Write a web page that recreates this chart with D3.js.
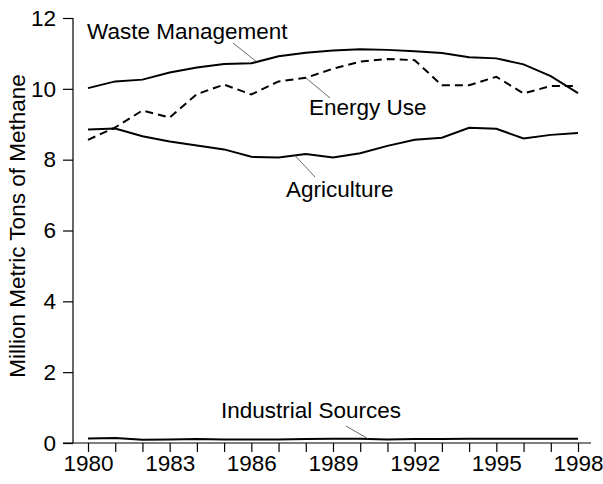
<!DOCTYPE html>
<html>
<head>
<meta charset="utf-8">
<script src="https://cdn.jsdelivr.net/npm/d3@7"></script>
<style>
  body { margin: 0; background: #fff; }
  text { font-family: "Liberation Sans", Arial, sans-serif; fill: #000; }
</style>
</head>
<body>
<div id="chart"></div>
<script>
// years on the x axis
var years = d3.range(1980, 1999);
var yearLabels = [1980, 1983, 1986, 1989, 1992, 1995, 1998];
var yTicks = [0, 2, 4, 6, 8, 10, 12];

// million metric tons of methane
var waste = [10.02, 10.21, 10.26, 10.46, 10.6, 10.7, 10.72, 10.92, 11.02, 11.08, 11.12, 11.1, 11.06, 11.01, 10.89, 10.86, 10.69, 10.36, 9.88];
var energy = [8.56, 8.91, 9.39, 9.19, 9.85, 10.12, 9.84, 10.21, 10.31, 10.57, 10.77, 10.84, 10.81, 10.1, 10.1, 10.34, 9.87, 10.08, 10.08];
var agriculture = [8.85, 8.88, 8.66, 8.51, 8.4, 8.29, 8.08, 8.06, 8.16, 8.06, 8.18, 8.39, 8.56, 8.62, 8.9, 8.87, 8.6, 8.7, 8.75];
var industrial = [0.13, 0.14, 0.09, 0.1, 0.11, 0.1, 0.1, 0.1, 0.11, 0.12, 0.12, 0.1, 0.11, 0.11, 0.12, 0.12, 0.12, 0.12, 0.12];

var width = 603, height = 484;
var fontSize = '22.5px';

var svg = d3.select('#chart').append('svg')
    .attr('width', width)
    .attr('height', height);

var x = d3.scaleLinear().domain([1980, 1998]).range([88, 578]);
var y = d3.scaleLinear().domain([0, 12]).range([443, 18]);

//axes lines, drawn by hand so they overhang like the original
svg.append('line')
    .attr('x1', x(1980) - 25).attr('x2', x(1998) + 13)
    .attr('y1', y(0)).attr('y2', y(0))
    .attr('stroke', '#000').attr('stroke-width', 1.2);
svg.append('line')
    .attr('x1', x(1980) - 15).attr('x2', x(1980) - 15)
    .attr('y1', y(0)).attr('y2', y(12))
    .attr('stroke', '#000').attr('stroke-width', 1.2);

//x ticks
var xAxis = d3.axisBottom(x)
    .tickValues(years)
    .tickSize(9)
    .tickFormat(function(d) { return yearLabels.indexOf(d) >= 0 ? d : ''; });
var gx = svg.append('g')
    .attr('transform', 'translate(0,' + y(0) + ')')
    .call(xAxis);
gx.select('.domain').remove();
gx.selectAll('line').attr('stroke', '#000').attr('stroke-width', 1.2);
gx.selectAll('text')
    .attr('y', 12)
    .style('font-size', fontSize)
    .style('font-family', '"Liberation Sans", Arial, sans-serif');

//y ticks
var yAxis = d3.axisLeft(y)
    .tickValues(yTicks)
    .tickSize(10)
    .tickFormat(d3.format('d'));
var gy = svg.append('g')
    .attr('transform', 'translate(' + (x(1980) - 15) + ',0)')
    .call(yAxis);
gy.select('.domain').remove();
gy.selectAll('line').attr('stroke', '#000').attr('stroke-width', 1.2);
gy.selectAll('text')
    .attr('x', -17)
    .style('font-size', fontSize)
    .style('font-family', '"Liberation Sans", Arial, sans-serif');

//y title
svg.append('text')
    .attr('transform', 'translate(25,226) rotate(-90)')
    .attr('text-anchor', 'middle')
    .style('font-size', fontSize)
    .text('Million Metric Tons of Methane');

var line = d3.line()
    .x(function(d, i) { return x(years[i]); })
    .y(function(d) { return y(d); });

var series = [
    { values: waste, dash: null },
    { values: energy, dash: '8,5' },
    { values: agriculture, dash: null },
    { values: industrial, dash: null }
];

svg.selectAll('.series').data(series)
    .enter().append('path')
    .attr('class', 'series')
    .attr('d', function(d) { return line(d.values); })
    .attr('fill', 'none')
    .attr('stroke', '#000')
    .attr('stroke-width', 2)
    .attr('stroke-dasharray', function(d) { return d.dash; });

//labels with leader lines
var labels = [
    { text: 'Waste Management', tx: 87, ty: 39, lx1: 233, ly1: 43, year: 1986.2, val: waste },
    { text: 'Energy Use', tx: 309, ty: 115, lx1: 330, ly1: 98, year: 1988, val: energy },
    { text: 'Agriculture', tx: 286, ty: 197, lx1: 315, ly1: 177, year: 1987.6, val: agriculture },
    { text: 'Industrial Sources', tx: 221, ty: 418, lx1: 346, ly1: 426, year: 1990.3, val: industrial }
];

labels.forEach(function(l) {
    var i = Math.floor(l.year - 1980);
    var f = l.year - 1980 - i;
    var v = l.val[i] + (l.val[i + 1] - l.val[i]) * f;
    svg.append('line')
        .attr('x1', l.lx1).attr('y1', l.ly1)
        .attr('x2', x(l.year)).attr('y2', y(v))
        .attr('stroke', '#444').attr('stroke-width', 0.8);
    svg.append('text')
        .attr('x', l.tx).attr('y', l.ty)
        .style('font-size', fontSize)
        .text(l.text);
});
</script>
</body>
</html>
